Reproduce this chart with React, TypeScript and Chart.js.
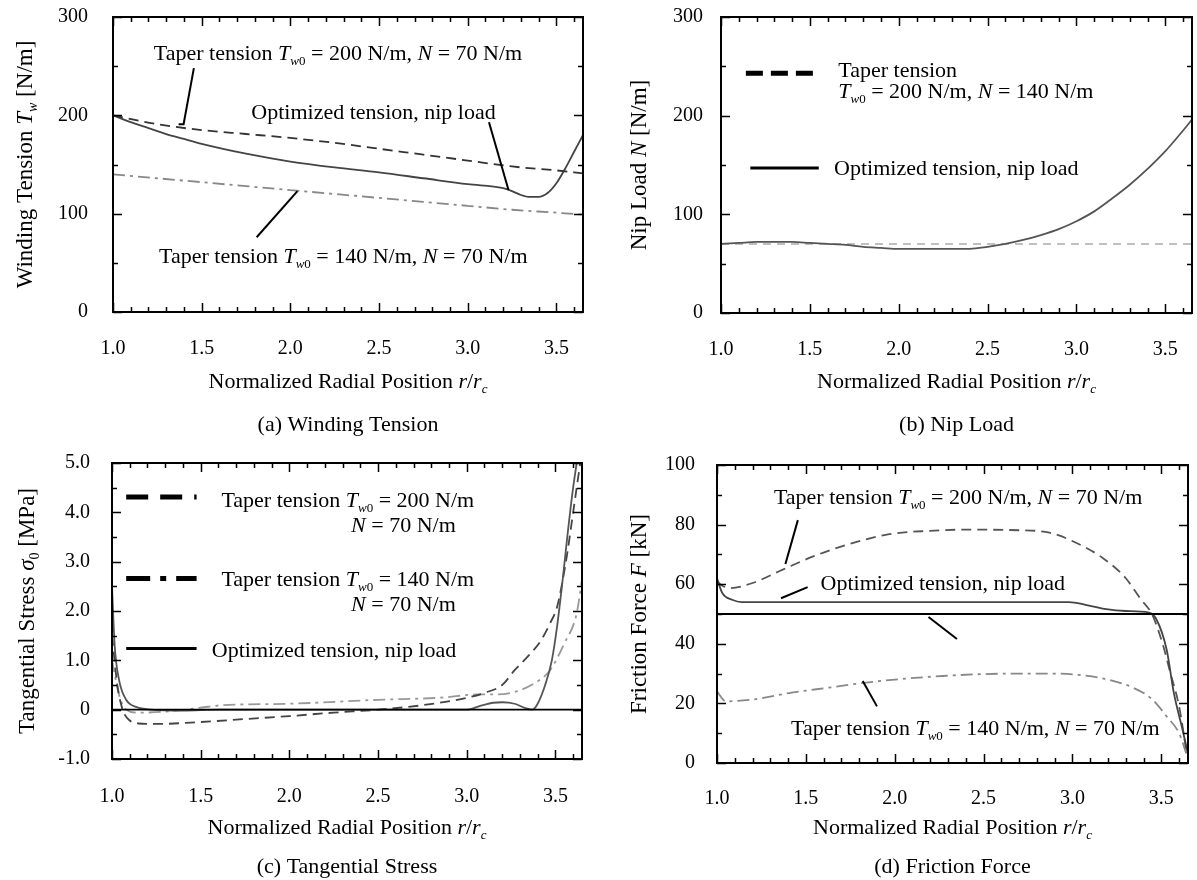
import { useEffect, useRef } from 'react';
import { Chart, registerables } from 'chart.js';

Chart.register(...registerables);

const FONT = '"Liberation Serif", "Times New Roman", Times, serif';

// ---------------- data ----------------
const xTicks = [1.0, 1.5, 2.0, 2.5, 3.0, 3.5];
const tensionTicks = [0, 100, 200, 300];
const stressTicks = [-1, 0, 1, 2, 3, 4, 5];
const forceTicks = [0, 20, 40, 60, 80, 100];

// (a) Winding tension
const aTaper200X = [1.0, 1.25, 1.5, 1.75, 2.0, 2.25, 2.5, 2.75, 3.0, 3.25, 3.5, 3.65];
const aTaper200Y = [200, 191, 185, 181, 177, 172, 166, 160, 154, 148, 144, 141];
const aOptX = [1.0, 1.1, 1.2, 1.3, 1.4, 1.5, 1.75, 2.0, 2.25, 2.5, 2.75, 3.0, 3.2, 3.25, 3.3, 3.35, 3.4, 3.45, 3.5, 3.55, 3.6, 3.65];
const aOptY = [200, 193, 187, 181, 176, 171, 161, 153, 147, 142, 136, 130, 126, 123, 119, 117, 117, 121, 131, 146, 163, 180];
const aTaper140X = [1.0, 1.25, 1.5, 1.75, 2.0, 2.25, 2.5, 2.75, 3.0, 3.25, 3.5, 3.65];
const aTaper140Y = [140, 136, 132, 128, 124, 120, 116, 112, 108, 104, 101, 99];

// (b) Nip load
const bTaperX = [1.0, 3.65];
const bTaperY = [70, 70];
const bOptX = [1.0, 1.1, 1.2, 1.3, 1.4, 1.5, 1.6, 1.7, 1.8, 1.9, 2.0, 2.2, 2.4, 2.5, 2.6, 2.7, 2.8, 2.9, 3.0, 3.1, 3.2, 3.3, 3.4, 3.5, 3.6, 3.65];
const bOptY = [70, 71, 72, 72, 72, 71, 70, 69, 67, 66, 65, 65, 65, 67, 70, 74, 79, 85, 93, 103, 116, 130, 146, 164, 185, 196];

// (c) Tangential stress
const cZeroX = [1.0, 3.65];
const cZeroY = [0, 0];
const cT200X = [1.0, 1.03, 1.06, 1.1, 1.15, 1.25, 1.5, 1.75, 2.0, 2.25, 2.5, 2.75, 3.0, 3.1, 3.2, 3.27, 3.35, 3.42, 3.47, 3.51, 3.54, 3.57, 3.6, 3.62, 3.64];
const cT200Y = [1.5, 0.5, 0.0, -0.22, -0.28, -0.29, -0.25, -0.19, -0.13, -0.06, 0.0, 0.09, 0.24, 0.34, 0.5, 0.8, 1.1, 1.41, 1.75, 2.09, 2.6, 3.24, 4.0, 4.5, 5.0];
const cT140X = [1.0, 1.04, 1.08, 1.15, 1.3, 1.5, 1.62, 2.0, 2.5, 2.84, 3.08, 3.17, 3.27, 3.38, 3.47, 3.55, 3.62, 3.65];
const cT140Y = [1.0, 0.3, 0.0, -0.06, -0.04, 0.04, 0.09, 0.12, 0.2, 0.24, 0.31, 0.31, 0.36, 0.53, 0.8, 1.34, 1.95, 2.63];
const cOptX = [1.0, 1.015, 1.04, 1.08, 1.14, 1.22, 1.4, 1.6, 2.0, 2.5, 3.0, 3.08, 3.15, 3.2, 3.27, 3.33, 3.37, 3.4, 3.445, 3.48, 3.51, 3.54, 3.57, 3.6, 3.62];
const cOptY = [2.5, 1.3, 0.6, 0.2, 0.05, 0.0, -0.02, 0.0, 0.0, 0.0, 0.0, 0.08, 0.14, 0.15, 0.12, 0.03, 0.0, 0.12, 0.53, 1.0, 1.7, 2.6, 3.6, 4.5, 5.0];

// (d) Friction force
const dRefX = [1.0, 3.65];
const dRefY = [50, 50];
const dT200X = [1.0, 1.03, 1.075, 1.2, 1.37, 1.545, 1.74, 1.97, 2.19, 2.4, 2.7, 2.87, 3.02, 3.17, 3.3, 3.38, 3.45, 3.51, 3.55, 3.6, 3.64];
const dT200Y = [61, 59.5, 58.7, 60.4, 64.9, 69.4, 73.4, 76.8, 77.9, 78.3, 78.1, 77.3, 73.9, 68.8, 62, 55.3, 49.6, 39.4, 30.4, 19, 4.3];
const dOptX = [1.0, 1.03, 1.085, 1.14, 1.5, 2.0, 2.5, 2.98, 3.08, 3.19, 3.3, 3.43, 3.47, 3.53, 3.57, 3.62, 3.65];
const dOptY = [62, 57, 54.8, 54, 54, 54, 54, 54, 53, 51.6, 51, 50.5, 48.5, 38, 23.6, 11, 3];
const dT140X = [1.0, 1.05, 1.2, 1.42, 1.63, 1.84, 2.06, 2.27, 2.48, 2.7, 2.91, 3.06, 3.19, 3.34, 3.45, 3.53, 3.6, 3.64];
const dT140Y = [24, 20.7, 21.3, 23.6, 25.3, 27, 28.3, 29.2, 29.8, 30, 30, 29.4, 28.1, 25.3, 21.3, 15.6, 10, 3.2];

// ---------------- text helpers ----------------
type Run = { t: string; it?: boolean; sub?: boolean };

const taperFull = (tw: string, n: string): Run[] => [
  { t: 'Taper tension ' }, { t: 'T', it: true }, { t: 'w', it: true, sub: true }, { t: '0', sub: true },
  { t: ` = ${tw} N/m, ` }, { t: 'N', it: true }, { t: ` = ${n} N/m` },
];
const taperTw = (tw: string): Run[] => [
  { t: 'Taper tension ' }, { t: 'T', it: true }, { t: 'w', it: true, sub: true }, { t: '0', sub: true }, { t: ` = ${tw} N/m` },
];
const nOnly = (n: string): Run[] => [{ t: 'N', it: true }, { t: ` = ${n} N/m` }];
const optRuns: Run[] = [{ t: 'Optimized tension, nip load' }];
const xTitleRuns: Run[] = [
  { t: 'Normalized Radial Position ' }, { t: 'r', it: true }, { t: '/' }, { t: 'r', it: true }, { t: 'c', it: true, sub: true },
];

function runFont(r: Run, size: number) {
  const s = r.sub ? Math.round(size * 0.6) : size;
  return `${r.it ? 'italic ' : ''}${s}px ${FONT}`;
}
function drawRuns(ctx: CanvasRenderingContext2D, runs: Run[], x: number, yMid: number, size: number, align: 'left' | 'center') {
  let w = 0;
  for (const r of runs) { ctx.font = runFont(r, size); w += ctx.measureText(r.t).width; }
  let cx = align === 'center' ? x - w / 2 : x;
  const base = yMid + size * 0.33;
  ctx.textAlign = 'left';
  ctx.textBaseline = 'alphabetic';
  ctx.fillStyle = '#000';
  for (const r of runs) {
    ctx.font = runFont(r, size);
    ctx.fillText(r.t, cx, base + (r.sub ? size * 0.22 : 0));
    cx += ctx.measureText(r.t).width;
  }
}

// ---------------- panel specs ----------------
interface Label { x: number; y: number; runs: Run[] }
interface Sample { x1: number; x2: number; y: number; dash: number[]; width: number }
interface PanelSpec {
  key: string;
  left: number; top: number; width: number; height: number;
  area: { l: number; r: number; t: number; b: number };
  yMin: number; yMax: number; yTicks: number[]; yMinor: number; yMajor: number;
  yFmt: (v: number) => string;
  yPad: number; xPad: number;
  datasets: any[];
  yTitle: Run[]; yTitleX: number;
  xTitleY: number; caption: string; captionY: number;
  labels: Label[]; leaders: number[][][]; samples: Sample[];
}

const pts = (xs: number[], ys: number[]) => xs.map((x, i) => ({ x, y: ys[i] }));
const line = (xs: number[], ys: number[], color: string, width: number, dash: number[] = [], smooth = true) => ({
  data: pts(xs, ys), borderColor: color, borderWidth: width, borderDash: dash,
  pointRadius: 0, fill: false, cubicInterpolationMode: smooth ? 'monotone' : 'default', tension: smooth ? 0.4 : 0,
});

const DASH = [10, 6];
const DASHDOT = [12, 5, 3, 5];

const panels: PanelSpec[] = [
  {
    key: 'a', left: 0, top: 0, width: 600, height: 440,
    area: { l: 113, r: 583, t: 17, b: 312 },
    yMin: 0, yMax: 300, yTicks: tensionTicks, yMinor: 50, yMajor: 100, yFmt: (v) => String(v),
    yPad: 17, xPad: 17,
    datasets: [
      line(aTaper200X, aTaper200Y, '#333', 1.8, DASH),
      line(aOptX, aOptY, '#444', 1.8),
      line(aTaper140X, aTaper140Y, '#888', 1.8, DASHDOT),
    ],
    yTitle: [{ t: 'Winding Tension ' }, { t: 'T', it: true }, { t: 'w', it: true, sub: true }, { t: ' [N/m]' }], yTitleX: 24,
    xTitleY: 381, caption: '(a) Winding Tension', captionY: 424,
    labels: [
      { x: 1.23, y: 264, runs: taperFull('200', '70') },
      { x: 1.78, y: 204, runs: optRuns },
      { x: 1.26, y: 57, runs: taperFull('140', '70') },
    ],
    leaders: [[[1.456, 248], [1.398, 191], [1.37, 191]], [[3.12, 193], [3.23, 124]], [[2.04, 123], [1.81, 76]]],
    samples: [],
  },
  {
    key: 'b', left: 600, top: 0, width: 597, height: 440,
    area: { l: 121, r: 592, t: 17, b: 313 },
    yMin: 0, yMax: 300, yTicks: tensionTicks, yMinor: 50, yMajor: 100, yFmt: (v) => String(v),
    yPad: 10, xPad: 17,
    datasets: [
      line(bOptX, bOptY, '#555', 1.8),
      line(bTaperX, bTaperY, '#aaa', 1.5, [8, 6], false),
    ],
    yTitle: [{ t: 'Nip Load ' }, { t: 'N', it: true }, { t: ' [N/m]' }], yTitleX: 38,
    xTitleY: 381, caption: '(b) Nip Load', captionY: 424,
    labels: [
      { x: 1.66, y: 247, runs: [{ t: 'Taper tension' }] },
      { x: 1.66, y: 225, runs: [{ t: 'T', it: true }, { t: 'w', it: true, sub: true }, { t: '0', sub: true }, { t: ' = 200 N/m, ' }, { t: 'N', it: true }, { t: ' = 140 N/m' }] },
      { x: 1.636, y: 147, runs: optRuns },
    ],
    leaders: [],
    samples: [
      { x1: 1.14, x2: 1.55, y: 243, dash: [17, 8], width: 5 },
      { x1: 1.165, x2: 1.55, y: 147, dash: [], width: 3 },
    ],
  },
  {
    key: 'c', left: 0, top: 440, width: 600, height: 440,
    area: { l: 112, r: 582, t: 23, b: 319 },
    yMin: -1, yMax: 5, yTicks: stressTicks, yMinor: 0.5, yMajor: 1, yFmt: (v) => (v === 0 ? '0' : v.toFixed(1)),
    yPad: 14, xPad: 18,
    datasets: [
      line(cZeroX, cZeroY, '#000', 1.8, [], false),
      line(cOptX, cOptY, '#555', 1.8),
      line(cT200X, cT200Y, '#444', 1.8, DASH),
      line(cT140X, cT140Y, '#999', 1.8, DASHDOT),
    ],
    yTitle: [{ t: 'Tangential Stress ' }, { t: 'σ', it: true }, { t: '0', sub: true }, { t: ' [MPa]' }], yTitleX: 26,
    xTitleY: 387, caption: '(c) Tangential Stress', captionY: 426,
    labels: [
      { x: 1.617, y: 4.25, runs: taperTw('200') },
      { x: 2.348, y: 3.75, runs: nOnly('70') },
      { x: 1.617, y: 2.66, runs: taperTw('140') },
      { x: 2.348, y: 2.15, runs: nOnly('70') },
      { x: 1.563, y: 1.21, runs: optRuns },
    ],
    leaders: [],
    samples: [
      { x1: 1.08, x2: 1.477, y: 4.31, dash: [22, 12], width: 5 },
      { x1: 1.08, x2: 1.477, y: 2.66, dash: [24, 10, 6, 10], width: 5 },
      { x1: 1.08, x2: 1.477, y: 1.24, dash: [], width: 3 },
    ],
  },
  {
    key: 'd', left: 600, top: 440, width: 597, height: 440,
    area: { l: 117, r: 588, t: 25, b: 323 },
    yMin: 0, yMax: 100, yTicks: forceTicks, yMinor: 10, yMajor: 20, yFmt: (v) => String(v),
    yPad: 14, xPad: 16,
    datasets: [
      line(dRefX, dRefY, '#000', 2, [], false),
      line(dOptX, dOptY, '#444', 1.8),
      line(dT200X, dT200Y, '#555', 1.8, DASH),
      line(dT140X, dT140Y, '#888', 1.8, DASHDOT),
    ],
    yTitle: [{ t: 'Friction Force ' }, { t: 'F', it: true }, { t: ' [kN]' }], yTitleX: 38,
    xTitleY: 387, caption: '(d) Friction Force', captionY: 426,
    labels: [
      { x: 1.32, y: 89.2, runs: taperFull('200', '70') },
      { x: 1.583, y: 60.4, runs: optRuns },
      { x: 1.417, y: 11.7, runs: taperFull('140', '70') },
    ],
    leaders: [[[1.455, 81.5], [1.385, 66.8]], [[1.51, 59], [1.36, 55.3]], [[2.19, 49], [2.35, 41.6]], [[1.82, 27.5], [1.9, 19]]],
    samples: [],
  },
];

function decorPlugin(p: PanelSpec) {
  return {
    id: 'decor_' + p.key,
    afterDraw(chart: any) {
      const { ctx, chartArea: a, scales } = chart;
      const xs = scales.x, ys = scales.y;
      const px = (v: number) => xs.getPixelForValue(v);
      const py = (v: number) => ys.getPixelForValue(v);
      ctx.save();
      // inward ticks on all four sides
      ctx.strokeStyle = '#000';
      ctx.lineWidth = 1.5;
      ctx.setLineDash([]);
      for (let i = 0; ; i++) {
        const v = 1 + i * 0.1;
        if (v > 3.65 + 1e-9) break;
        const major = Math.abs(v * 2 - Math.round(v * 2)) < 1e-6;
        const len = major ? 9 : 5;
        const x = Math.round(px(v)) + 0.5;
        ctx.beginPath();
        ctx.moveTo(x, a.bottom); ctx.lineTo(x, a.bottom - len);
        ctx.moveTo(x, a.top); ctx.lineTo(x, a.top + len);
        ctx.stroke();
      }
      for (let i = 0; ; i++) {
        const v = p.yMin + i * p.yMinor;
        if (v > p.yMax + 1e-9) break;
        const major = Math.abs(v / p.yMajor - Math.round(v / p.yMajor)) < 1e-6;
        const len = major ? 9 : 5;
        const y = Math.round(py(v)) + 0.5;
        ctx.beginPath();
        ctx.moveTo(a.left, y); ctx.lineTo(a.left + len, y);
        ctx.moveTo(a.right, y); ctx.lineTo(a.right - len, y);
        ctx.stroke();
      }
      // frame
      ctx.lineWidth = 2;
      ctx.strokeRect(a.left, a.top, a.right - a.left, a.bottom - a.top);
      // legend samples
      for (const s of p.samples) {
        ctx.lineWidth = s.width;
        ctx.strokeStyle = '#000';
        ctx.setLineDash(s.dash);
        ctx.beginPath();
        ctx.moveTo(px(s.x1), py(s.y)); ctx.lineTo(px(s.x2), py(s.y));
        ctx.stroke();
      }
      ctx.setLineDash([]);
      // leader lines
      ctx.lineWidth = 2;
      ctx.strokeStyle = '#000';
      for (const l of p.leaders) {
        ctx.beginPath();
        l.forEach((q, i) => (i === 0 ? ctx.moveTo(px(q[0]), py(q[1])) : ctx.lineTo(px(q[0]), py(q[1]))));
        ctx.stroke();
      }
      // annotations
      for (const lb of p.labels) drawRuns(ctx, lb.runs, px(lb.x), py(lb.y), 22, 'left');
      // axis titles and caption
      const cx = (a.left + a.right) / 2;
      drawRuns(ctx, xTitleRuns, cx, p.xTitleY, 22, 'center');
      drawRuns(ctx, [{ t: p.caption }], cx, p.captionY, 22, 'center');
      ctx.save();
      ctx.translate(p.yTitleX, (a.top + a.bottom) / 2);
      ctx.rotate(-Math.PI / 2);
      drawRuns(ctx, p.yTitle, 0, 0, 23, 'center');
      ctx.restore();
      ctx.restore();
    },
  };
}

function Panel({ spec }: { spec: PanelSpec }) {
  const ref = useRef<HTMLCanvasElement | null>(null);
  useEffect(() => {
    const canvas = ref.current;
    if (!canvas) return;
    const tickFont = { family: FONT, size: 20 };
    const chart = new Chart(canvas, {
      type: 'line',
      data: { datasets: spec.datasets },
      options: {
        animation: false,
        responsive: false,
        maintainAspectRatio: false,
        events: [],
        layout: { padding: { top: spec.area.t, right: spec.width - spec.area.r, left: 0, bottom: 0 } },
        plugins: { legend: { display: false }, tooltip: { enabled: false } },
        scales: {
          x: {
            type: 'linear', min: 1, max: 3.65,
            grid: { display: false }, border: { display: false },
            ticks: { font: tickFont, color: '#000', padding: spec.xPad, maxRotation: 0, autoSkip: false, callback: (v: any) => Number(v).toFixed(1) },
            afterBuildTicks: (s: any) => { s.ticks = xTicks.map((v) => ({ value: v })); },
            afterFit: (s: any) => { s.height = spec.height - spec.area.b; s.paddingLeft = 0; s.paddingRight = 0; },
          },
          y: {
            type: 'linear', min: spec.yMin, max: spec.yMax,
            grid: { display: false }, border: { display: false },
            ticks: { font: tickFont, color: '#000', padding: spec.yPad, autoSkip: false, callback: (v: any) => spec.yFmt(Number(v)) },
            afterBuildTicks: (s: any) => { s.ticks = spec.yTicks.map((v) => ({ value: v })); },
            afterFit: (s: any) => { s.width = spec.area.l; s.paddingTop = 0; s.paddingBottom = 0; },
          },
        },
      } as any,
      plugins: [decorPlugin(spec)],
    });
    return () => chart.destroy();
  }, [spec]);
  return (
    <canvas
      ref={ref}
      width={spec.width}
      height={spec.height}
      style={{ position: 'absolute', left: spec.left, top: spec.top, width: spec.width, height: spec.height }}
    />
  );
}

export default function App() {
  return (
    <div style={{ position: 'absolute', left: 0, top: 0, width: 1197, height: 880, background: '#fff' }}>
      {panels.map((p) => (
        <Panel key={p.key} spec={p} />
      ))}
    </div>
  );
}
